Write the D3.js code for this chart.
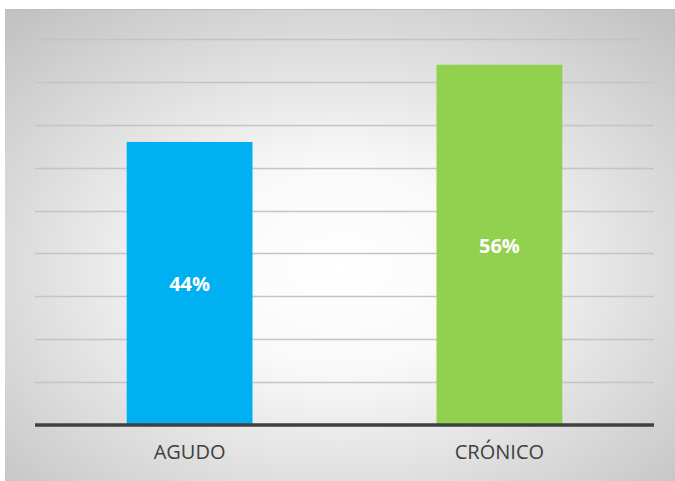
<!DOCTYPE html>
<html>
<head>
<meta charset="utf-8">
<script src="https://cdn.jsdelivr.net/npm/d3@7"></script>
<style>
  html, body { margin: 0; padding: 0; background: #ffffff; }
  svg { display: block; }
</style>
</head>
<body>
<script>
// Chart data
const categories = ["AGUDO", "CRÓNICO"];
const values = [0.44, 0.56];
const barColors = ["#00b0f0", "#92d050"];
const gridTicks = d3.range(0, 10).map(i => i * 0.6 / 9);

const W = 675, H = 481;
const svg = d3.select("body").append("svg").attr("width", W).attr("height", H);

// Panel background with radial shading
const defs = svg.append("defs");
const grad = defs.append("radialGradient")
  .attr("id", "bg").attr("cx", "50%").attr("cy", "55%").attr("r", "72%");
grad.append("stop").attr("offset", "0%").attr("stop-color", "#ffffff");
grad.append("stop").attr("offset", "30%").attr("stop-color", "#f9f9f9");
grad.append("stop").attr("offset", "100%").attr("stop-color", "#c2c2c2");

svg.append("rect")
  .attr("x", 5).attr("y", 9).attr("width", W - 5).attr("height", H - 9)
  .attr("fill", "url(#bg)");
svg.append("line")
  .attr("x1", 5).attr("x2", W).attr("y1", 9.5).attr("y2", 9.5)
  .attr("stroke", "#bdbdbd").attr("stroke-width", 1);

const plot = { left: 35, right: 654, top: 39, bottom: 425 };

const x = d3.scaleBand()
  .domain(categories)
  .range([plot.left, plot.right])
  .paddingInner(0.594)
  .paddingOuter(0.296);

const y = d3.scaleLinear().domain([0, 0.6]).range([plot.bottom, plot.top]);

// Gridlines
svg.append("g")
  .selectAll("line")
  .data(gridTicks.slice(1))
  .join("line")
  .attr("x1", plot.left).attr("x2", plot.right)
  .attr("y1", d => Math.round(y(d)) + 0.5).attr("y2", d => Math.round(y(d)) + 0.5)
  .attr("stroke", "#c4c4c4").attr("stroke-width", 1.5);

// Bars
svg.append("g")
  .selectAll("rect")
  .data(values)
  .join("rect")
  .attr("x", (d, i) => x(categories[i]))
  .attr("width", x.bandwidth())
  .attr("y", d => y(d))
  .attr("height", d => y(0) - y(d))
  .attr("fill", (d, i) => barColors[i]);

// Value labels
svg.append("g")
  .selectAll("text")
  .data(values)
  .join("text")
  .attr("x", (d, i) => x(categories[i]) + x.bandwidth() / 2)
  .attr("y", d => (y(d) + y(0)) / 2 + 1)
  .attr("dy", "0.35em")
  .attr("text-anchor", "middle")
  .attr("font-family", "'Open Sans', sans-serif")
  .attr("font-weight", "bold")
  .attr("font-size", 20)
  .attr("fill", "#ffffff")
  .text(d => d3.format(".0%")(d));

// Baseline
svg.append("line")
  .attr("x1", plot.left).attr("x2", plot.right)
  .attr("y1", y(0)).attr("y2", y(0))
  .attr("stroke", "#404040").attr("stroke-width", 3.5);

// Category axis
const xAxis = svg.append("g")
  .attr("transform", `translate(0,${plot.bottom})`)
  .call(d3.axisBottom(x).tickSize(0).tickPadding(20));
xAxis.select(".domain").remove();
xAxis.selectAll("text")
  .attr("font-family", "'Open Sans', sans-serif")
  .attr("font-size", 20)
  .attr("fill", "#404040");
</script>
</body>
</html>
